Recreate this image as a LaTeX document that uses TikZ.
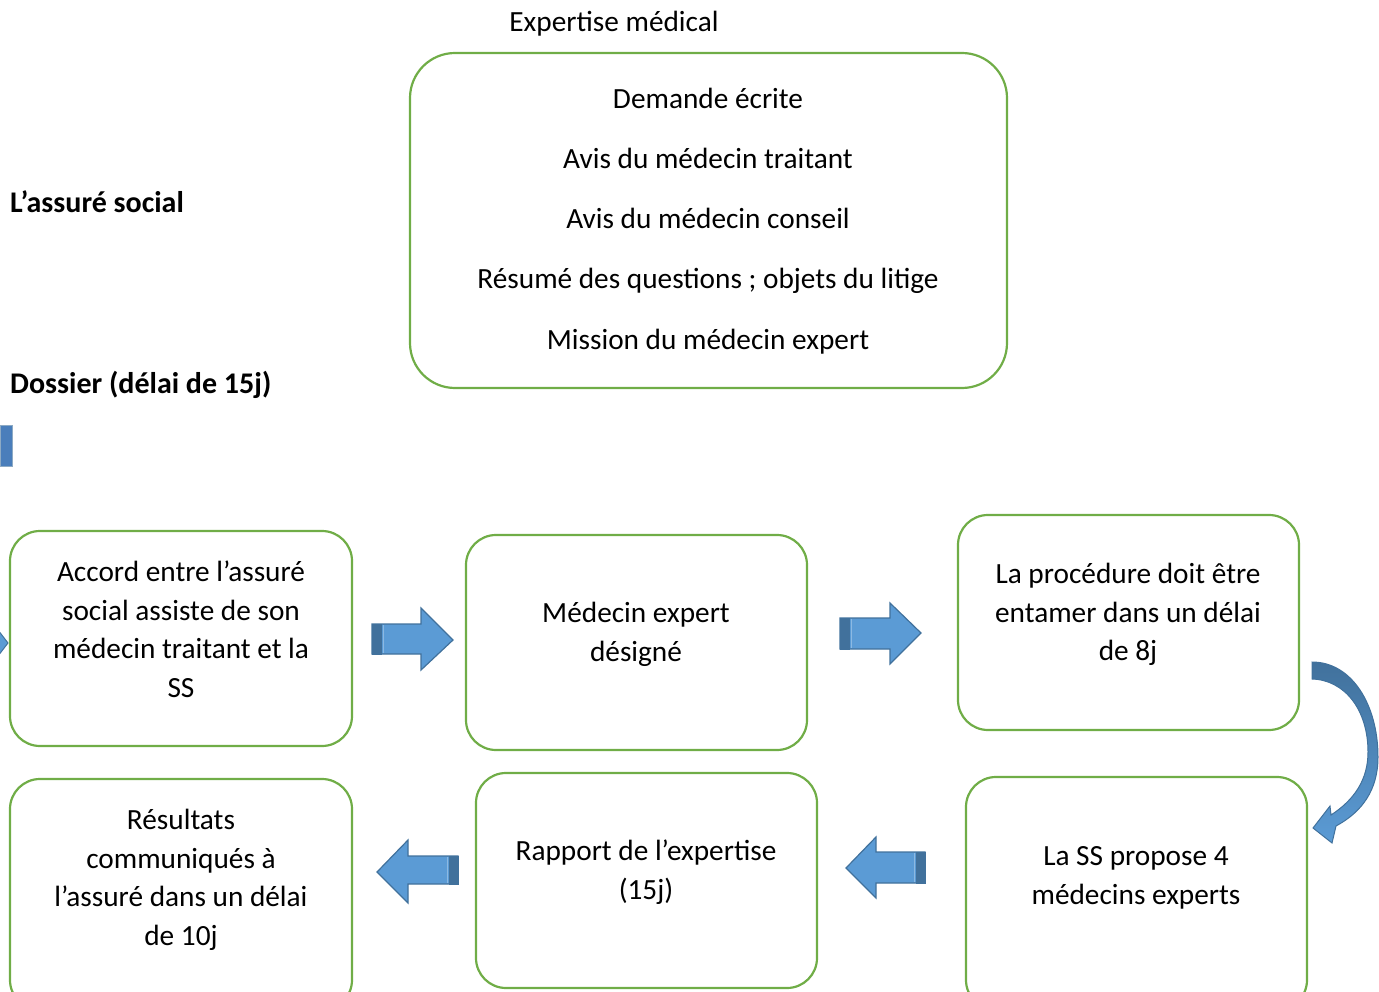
\documentclass[tikz,border=0pt]{standalone}
\usepackage{fontspec}
\setmainfont{Carlito}
\begin{document}
\begin{tikzpicture}[x=1pt,y=-1pt,
  gbox/.style={draw=boxgreen,line width=2.2pt,rounded corners=30pt},
  txt/.style={anchor=base,inner sep=0pt,font=\fontsize{29.3}{34}\selectfont},
  btxt/.style={anchor=base west,inner sep=0pt,font=\fontsize{30}{34}\selectfont\bfseries},
  barrow/.style={fill=arrowblue,draw=arrowedge,line width=1.2pt,line join=miter},
  tailbar/.style={fill=arrowedge,draw=arrowedge,line width=0.8pt}]
\definecolor{boxgreen}{RGB}{112,173,71}
\definecolor{arrowblue}{RGB}{91,155,213}
\definecolor{arrowedge}{RGB}{65,113,156}
\definecolor{darkblue}{RGB}{74,126,187}
\useasboundingbox (0,0) rectangle (1379,992);
\begin{scope}
\clip (0,0) rectangle (1379,992);
% title and side labels
\node[txt] (title) at (614,32) {Expertise médical};
\node[btxt] (assure) at (10,213) {L’assuré social};
\node[btxt] (dossier) at (10,393) {Dossier (délai de 15j)};
% top box
\draw[gbox,rounded corners=45pt] (410,53) rectangle (1007,388);
\node[txt] (t1) at (708,109) {Demande écrite};
\node[txt] (t2) at (708,169) {Avis du médecin traitant};
\node[txt] (t3) at (708,229) {Avis du médecin conseil};
\node[txt] (t4) at (708,289) {Résumé des questions ; objets du litige};
\node[txt] (t5) at (708,349) {Mission du médecin expert};
% small blue rectangle
\fill[darkblue] (0,425) rectangle (12,466);
\draw[arrowedge!60!white,line width=0.6pt] (0,425) rectangle (12,466);
% partial arrow tip at left
\fill[arrowblue,draw=arrowedge,line width=1pt] (-2,630) -- (8,643) -- (-2,656) -- cycle;
% boxes
\draw[gbox] (10,531) rectangle (352,746);
\node[txt] (a1) at (181,581) {Accord entre l’assuré};
\node[txt] (a2) at (181,620) {social assiste de son};
\node[txt] (a3) at (181,658) {médecin traitant et la};
\node[txt] (a4) at (181,697) {SS};
\draw[gbox] (466,535) rectangle (807,750);
\node[txt] (b1) at (636,622) {Médecin expert};
\node[txt] (b2) at (636,661) {désigné};
\draw[gbox] (958,515) rectangle (1299,730);
\node[txt] (c1) at (1128,583) {La procédure doit être};
\node[txt] (c2) at (1128,622) {entamer dans un délai};
\node[txt] (c3) at (1128,660) {de 8j};
\draw[gbox] (966,777) rectangle (1307,1010);
\node[txt] (d1) at (1136,865) {La SS propose 4};
\node[txt] (d2) at (1136,904) {médecins experts};
\draw[gbox] (476,773) rectangle (817,988);
\node[txt] (e1) at (646,860) {Rapport de l’expertise};
\node[txt] (e2) at (646,899) {(15j)};
\draw[gbox] (10,779) rectangle (352,1010);
\node[txt] (f1) at (181,829) {Résultats};
\node[txt] (f2) at (181,868) {communiqués à};
\node[txt] (f3) at (181,906) {l’assuré dans un délai};
\node[txt] (f4) at (181,945) {de 10j};
% right arrows
\draw[barrow] (372,624) -- (421,624) -- (421,608) -- (453,640) -- (421,670) -- (421,654) -- (372,654) -- cycle;
\draw[tailbar] (372,624) rectangle (381,654);
\draw[arrowblue!70!white,line width=0.8pt] (383,625) -- (383,653);
\draw[barrow] (840,618) -- (890,618) -- (890,603) -- (921,633) -- (890,664) -- (890,649) -- (840,649) -- cycle;
\draw[tailbar] (840,618) rectangle (849,649);
\draw[arrowblue!70!white,line width=0.8pt] (851,619) -- (851,648);
% left arrows
\draw[barrow] (458,856) -- (408,856) -- (408,840) -- (377,872) -- (408,903) -- (408,884) -- (458,884) -- cycle;
\draw[tailbar] (449,856) rectangle (458,884);
\draw[arrowblue!70!white,line width=0.8pt] (447,857) -- (447,883);
\draw[barrow] (925,852) -- (876,852) -- (876,837) -- (846,868) -- (876,898) -- (876,883) -- (925,883) -- cycle;
\draw[tailbar] (916,852) rectangle (925,883);
\draw[arrowblue!70!white,line width=0.8pt] (914,853) -- (914,882);
% curved arrow
\path[top color=arrowedge,bottom color=arrowblue,draw=arrowedge,line width=1pt]
  (1312,662) .. controls (1352,662) and (1378,705) .. (1378,757)
  .. controls (1378,790) and (1362,812) .. (1336,826)
  -- (1332,843) -- (1313,828) -- (1330,806) -- (1331,815)
  .. controls (1354,800) and (1368,780) .. (1368,752)
  .. controls (1368,710) and (1345,680) .. (1312,679) -- cycle;
\end{scope}
\end{tikzpicture}
\end{document}
